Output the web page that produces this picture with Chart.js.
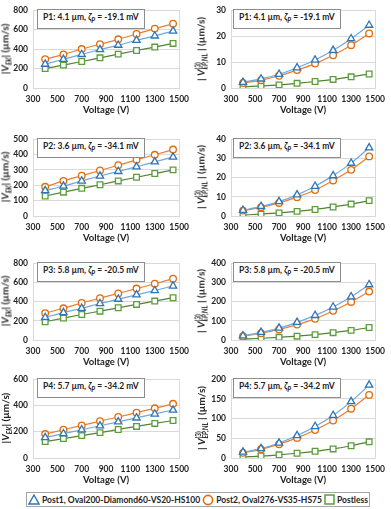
<!DOCTYPE html>
<html>
<head>
<meta charset="utf-8">
<script src="https://cdn.jsdelivr.net/npm/chart.js@4.4.1/dist/chart.umd.min.js"></script>
<style>
  html, body { margin: 0; padding: 0; background: #fff; }
  #page { position: relative; width: 391px; height: 509px; overflow: hidden;
          font-family: Lato, "Open Sans", sans-serif; font-weight: bold; color: #222; }
  .panel { position: absolute; }
  .ytitle { position: absolute; white-space: nowrap; font-size: 10px; line-height: 10px;
            transform: translate(-50%, -50%) rotate(-90deg); }
  .ytitle sub { font-size: 6.5px; font-style: italic; }
  .ss { display: inline-flex; flex-direction: column; vertical-align: middle;
        font-size: 6.5px; line-height: 6.5px; font-style: italic; }
  .ss span:first-child { font-style: normal; }
  .note { position: absolute; border: 1px solid #8c8c8c; background: #fff; font-size: 8.5px;
          line-height: 12px; padding: 1px 5px; white-space: nowrap; }
  .note sub { font-size: 6.5px; font-style: italic; }
  .legend { position: absolute; left: 26px; top: 492px; width: 342px; height: 13px;
            border: 1px solid #a6a6a6; display: flex; align-items: center; justify-content: space-around;
            font-size: 8.5px; white-space: nowrap; }
  .legend span.item { display: inline-flex; align-items: center; gap: 2px; }
</style>
</head>
<body>
<div id="page"></div>
<script>
// Voltage (V), same for every panel
const voltage = [400, 550, 700, 850, 1000, 1150, 1300, 1450];

// |V_EK| (um/s)
const p1EkPost1    = [245, 295, 345, 395, 440, 490, 535, 585];
const p1EkPost2    = [295, 345, 400, 450, 500, 555, 610, 660];
const p1EkPostless = [200, 235, 272, 310, 348, 385, 420, 458];

const p2EkPost1    = [165, 195, 228, 260, 290, 320, 352, 383];
const p2EkPost2    = [190, 228, 262, 296, 330, 365, 398, 432];
const p2EkPostless = [130, 155, 180, 203, 228, 252, 276, 300];

const p3EkPost1    = [235, 285, 330, 380, 425, 470, 515, 562];
const p3EkPost2    = [280, 330, 385, 435, 485, 535, 585, 638];
const p3EkPostless = [190, 228, 265, 300, 335, 370, 405, 440];

const p4EkPost1    = [155, 185, 215, 245, 275, 305, 335, 365];
const p4EkPost2    = [182, 215, 248, 280, 312, 345, 378, 412];
const p4EkPostless = [125, 148, 170, 193, 217, 240, 263, 285];

// |V(3)_EP,NL| (um/s)
const p1EpPost1    = [2.2, 3.5, 5.3, 7.8, 10.8, 14.5, 19.0, 24.2];
const p1EpPost2    = [1.9, 3.0, 4.7, 6.9, 9.4, 12.6, 16.5, 21.0];
const p1EpPostless = [0.4, 0.8, 1.2, 1.8, 2.5, 3.3, 4.3, 5.4];

const p2EpPost1    = [3.0, 5.0, 7.5, 11.0, 15.5, 21.0, 27.5, 35.5];
const p2EpPost2    = [2.8, 4.5, 6.8, 9.8, 13.5, 18.5, 24.0, 31.0];
const p2EpPostless = [0.5, 1.0, 1.6, 2.4, 3.4, 4.7, 6.2, 8.0];

const p3EpPost1    = [22, 40, 62, 92, 128, 172, 225, 288];
const p3EpPost2    = [20, 35, 55, 80, 110, 152, 198, 252];
const p3EpPostless = [5, 9, 14, 20, 28, 38, 50, 65];

const p4EpPost1    = [15, 24, 38, 57, 80, 108, 143, 185];
const p4EpPost2    = [13, 22, 35, 51, 71, 95, 125, 160];
const p4EpPostless = [3, 5, 8, 12, 17, 23, 31, 41];

const notes = [
  'P1: 4.1 µm, <i>ζ</i><sub>P</sub> = -19.1 mV',
  'P2: 3.6 µm, <i>ζ</i><sub>P</sub> = -34.1 mV',
  'P3: 5.8 µm, <i>ζ</i><sub>P</sub> = -20.5 mV',
  'P4: 5.7 µm, <i>ζ</i><sub>P</sub> = -34.2 mV'
];

const seriesNames = ['Post1, Oval200-Diamond60-VS20-HS100', 'Post2, Oval276-VS35-HS75', 'Postless'];

// Series look: line colour, marker colour, marker shape
const STYLES = [
  { line: '#6fa8dc', mark: '#2e75b6', shape: 'triangle', r: 4.2 },
  { line: '#ed7d31', mark: '#e36c0a', shape: 'circle', r: 3.3 },
  { line: '#548235', mark: '#5a9e3a', shape: 'rect', r: 4 }
];

const YTITLE_EK = '|<i>V</i><sub>EK</sub>| (µm/s)';
const YTITLE_EP = '| <i>V</i><span class="ss"><span>(3)</span><span>EP,NL</span></span> | (µm/s)';

// row geometry: plot area top / bottom in page pixels
const ROWS = [
  { top: 5, bottom: 88 },
  { top: 134, bottom: 216 },
  { top: 258, bottom: 340 },
  { top: 374, bottom: 458 }
];
// column geometry: canvas left, canvas width, y-axis width
const COLS = [
  { left: 0, width: 195, yw: 33, titleX: 7, noteX: 37 },
  { left: 195, width: 196, yw: 36, titleX: 202, noteX: 233 }
];
const XH = 28;

const panels = [
  { row: 0, col: 0, max: 800, step: 200, sets: [p1EkPost1, p1EkPost2, p1EkPostless] },
  { row: 0, col: 1, max: 30, step: 10, sets: [p1EpPost1, p1EpPost2, p1EpPostless] },
  { row: 1, col: 0, max: 500, step: 100, sets: [p2EkPost1, p2EkPost2, p2EkPostless] },
  { row: 1, col: 1, max: 40, step: 10, sets: [p2EpPost1, p2EpPost2, p2EpPostless] },
  { row: 2, col: 0, max: 800, step: 200, sets: [p3EkPost1, p3EkPost2, p3EkPostless] },
  { row: 2, col: 1, max: 400, step: 100, sets: [p3EpPost1, p3EpPost2, p3EpPostless] },
  { row: 3, col: 0, max: 600, step: 200, sets: [p4EkPost1, p4EkPost2, p4EkPostless] },
  { row: 3, col: 1, max: 200, step: 50, sets: [p4EpPost1, p4EpPost2, p4EpPostless] }
];

const page = document.getElementById('page');
const tickFont = { family: 'Lato', size: 8.5, weight: 'bold' };

// light grey box round the plot area
const frame = {
  id: 'frame',
  beforeDatasetsDraw(chart) {
    const a = chart.chartArea, ctx = chart.ctx;
    ctx.save();
    ctx.strokeStyle = '#d9d9d9';
    ctx.lineWidth = 1;
    ctx.strokeRect(Math.round(a.left) + 0.5, Math.round(a.top) + 0.5,
                   Math.round(a.right - a.left), Math.round(a.bottom - a.top));
    ctx.restore();
  }
};

panels.forEach(function (p) {
  const row = ROWS[p.row], col = COLS[p.col];
  const top = row.top - 5;
  const h = (row.bottom - row.top) + 5 + XH;

  const canvas = document.createElement('canvas');
  canvas.className = 'panel';
  canvas.width = col.width;
  canvas.height = h;
  canvas.style.left = col.left + 'px';
  canvas.style.top = top + 'px';
  canvas.style.width = col.width + 'px';
  canvas.style.height = h + 'px';
  page.appendChild(canvas);

  const datasets = p.sets.map(function (vals, i) {
    const s = STYLES[i];
    return {
      label: seriesNames[i],
      data: voltage.map(function (v, k) { return { x: v, y: vals[k] }; }),
      borderColor: s.line,
      borderWidth: 1.2,
      pointStyle: s.shape,
      pointRadius: s.r,
      pointBorderColor: s.mark,
      pointBackgroundColor: '#fff',
      pointBorderWidth: 1.3,
      cubicInterpolationMode: 'monotone',
      fill: false
    };
  });

  new Chart(canvas, {
    type: 'line',
    data: { datasets: datasets },
    options: {
      responsive: false,
      animation: false,
      devicePixelRatio: 1,
      layout: { padding: { top: 5, right: col.width - col.yw - 148 + (p.col ? 2 : 0), left: 0, bottom: 0 } },
      plugins: { legend: { display: false }, tooltip: { enabled: false } },
      scales: {
        x: {
          type: 'linear',
          min: 300, max: 1500,
          grid: { display: false, drawTicks: false },
          border: { display: false },
          ticks: { stepSize: 200, padding: 6, color: '#222', font: tickFont, maxRotation: 0,
                   autoSkip: false, callback: function (v) { return String(v); } },
          title: { display: true, text: 'Voltage (V)', color: '#222',
                   font: { family: 'Lato', size: 9.5, weight: 'bold' }, padding: 0 },
          afterFit: function (s) { s.height = XH; }
        },
        y: {
          min: 0, max: p.max,
          grid: { color: '#d9d9d9', drawTicks: false },
          border: { display: false },
          ticks: { stepSize: p.step, padding: 5, color: '#222', font: tickFont,
                   callback: function (v) { return String(v); } },
          afterFit: function (s) { s.width = col.yw; }
        }
      }
    },
    plugins: [frame]
  });

  const t = document.createElement('div');
  t.className = 'ytitle';
  t.innerHTML = p.col ? YTITLE_EP : YTITLE_EK;
  t.style.left = col.titleX + 'px';
  t.style.top = ((row.top + row.bottom) / 2 + 2) + 'px';
  page.appendChild(t);

  const n = document.createElement('div');
  n.className = 'note';
  n.innerHTML = notes[p.row];
  n.style.left = col.noteX + 'px';
  n.style.top = (row.top + 4) + 'px';
  page.appendChild(n);
});

// legend
const legend = document.createElement('div');
legend.className = 'legend';
const icons = [
  '<svg width="12" height="11"><polygon points="6,1 11,10 1,10" fill="#fff" stroke="#2e75b6" stroke-width="1.4"/></svg>',
  '<svg width="12" height="12"><circle cx="6" cy="6" r="4.6" fill="#fff" stroke="#e36c0a" stroke-width="1.6"/></svg>',
  '<svg width="11" height="11"><rect x="1" y="1" width="9" height="9" fill="#fff" stroke="#5a9e3a" stroke-width="1.5"/></svg>'
];
seriesNames.forEach(function (name, i) {
  const it = document.createElement('span');
  it.className = 'item';
  it.innerHTML = icons[i] + '<span>' + name + '</span>';
  legend.appendChild(it);
});
page.appendChild(legend);
</script>
</body>
</html>
